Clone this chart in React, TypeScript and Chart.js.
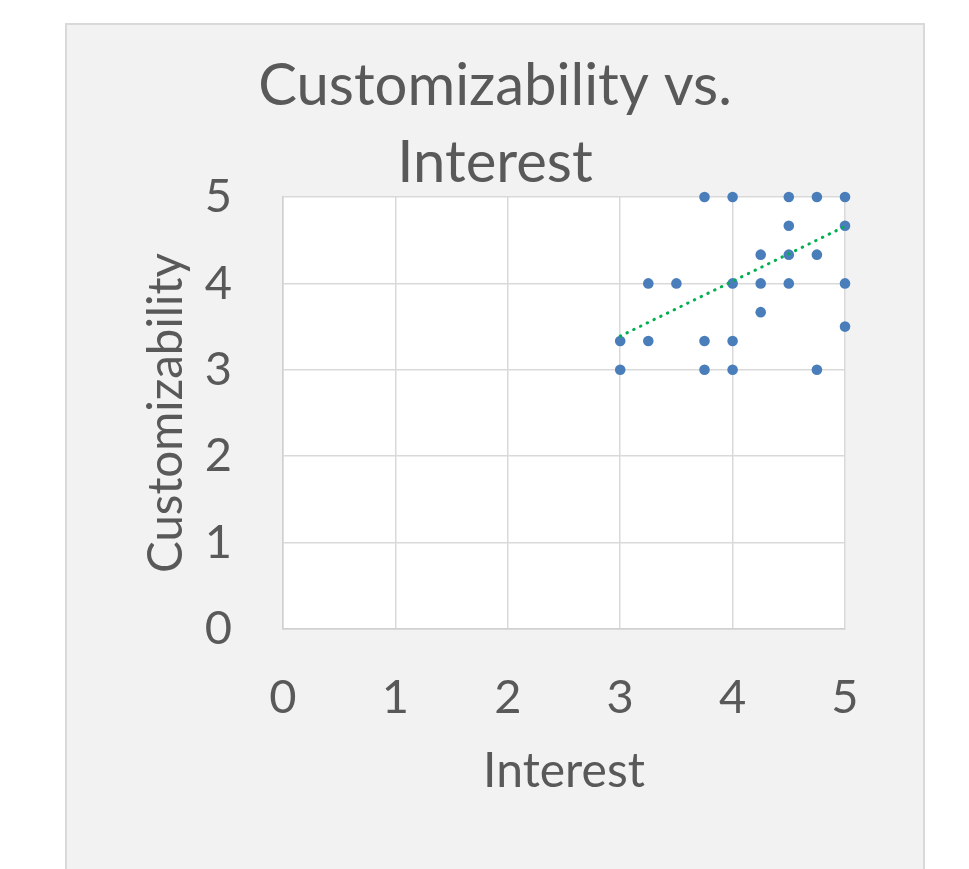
import React, { useEffect, useRef } from "react";
import { Chart, registerables } from "chart.js";

Chart.register(...registerables);

const chartTitle: string[] = ["Customizability vs.", "Interest"];
const xAxisTitle = "Interest";
const yAxisTitle = "Customizability";
const xTicks: number[] = [0, 1, 2, 3, 4, 5];
const yTicks: number[] = [0, 1, 2, 3, 4, 5];

const interest: number[] = [
  3.75, 4, 4.5, 4.75, 5,
  4.5, 5,
  4.25, 4.5, 4.75,
  3.25, 3.5, 4, 4.25, 4.5, 5,
  4.25, 5,
  3, 3.25, 3.75, 4,
  3, 3.75, 4, 4.75,
];
const customizability: number[] = [
  5, 5, 5, 5, 5,
  4.667, 4.667,
  4.333, 4.333, 4.333,
  4, 4, 4, 4, 4, 4,
  3.667, 3.5,
  3.333, 3.333, 3.333, 3.333,
  3, 3, 3, 3,
];
const trendX: number[] = [3, 5];
const trendY: number[] = [3.39, 4.66];

const FONT = "Lato, 'Open Sans', sans-serif";
const TEXT = "#595959";

export default function App() {
  const ref = useRef<HTMLCanvasElement>(null);
  useEffect(() => {
    if (!ref.current) return;
    const titlePlugin = {
      id: "twoLineTitle",
      afterDraw(chart: any) {
        const ctx = chart.ctx;
        ctx.save();
        ctx.fillStyle = TEXT;
        ctx.font = `58px ${FONT}`;
        ctx.textAlign = "center";
        ctx.textBaseline = "alphabetic";
        const cx = chart.width / 2;
        ctx.fillText(chartTitle[0], cx, 80);
        ctx.fillText(chartTitle[1], cx, 157);
        ctx.restore();
      },
    };
    const bgPlugin = {
      id: "plotBg",
      beforeDraw(chart: any) {
        const { ctx, chartArea } = chart;
        ctx.save();
        ctx.fillStyle = "#ffffff";
        ctx.fillRect(chartArea.left, chartArea.top, chartArea.right - chartArea.left, chartArea.bottom - chartArea.top);
        ctx.restore();
      },
    };
    const chart = new Chart(ref.current, {
      type: "scatter",
      data: {
        datasets: [
          {
            label: "Trend",
            data: trendX.map((x, i) => ({ x, y: trendY[i] })),
            showLine: true,
            borderColor: "#00b050",
            borderWidth: 3,
            borderDash: [0.5, 7],
            borderCapStyle: "round",
            pointRadius: 0,
            fill: false,
            clip: false,
          } as any,
          {
            label: "Customizability",
            data: interest.map((x, i) => ({ x, y: customizability[i] })),
            backgroundColor: "#4a7ebb",
            borderColor: "#4a7ebb",
            borderWidth: 0,
            pointRadius: 5.3,
            clip: false,
          } as any,
        ],
      },
      options: {
        animation: false,
        responsive: false,
        devicePixelRatio: 1,
        layout: { padding: { left: 0, top: 172, right: 78, bottom: 0 } },
        plugins: {
          legend: { display: false },
          tooltip: { enabled: false },
          title: { display: false },
        },
        scales: {
          x: {
            type: "linear",
            min: 0,
            max: 5,
            afterBuildTicks: (s: any) => { s.ticks = xTicks.map((v) => ({ value: v })); },
            afterFit: (s: any) => { s.height = 240; },
            grid: { color: "#d9d9d9", lineWidth: 1.5, drawTicks: false },
            border: { color: "#d0d0d0", width: 1.5 },
            ticks: { color: TEXT, font: { family: FONT, size: 47 }, padding: 41, maxRotation: 0 },
            title: { display: true, text: xAxisTitle, color: TEXT, font: { family: FONT, size: 48 }, padding: { top: 0, bottom: 69 } },
          },
          y: {
            type: "linear",
            min: 0,
            max: 5,
            afterBuildTicks: (s: any) => { s.ticks = yTicks.map((v) => ({ value: v })); },
            afterFit: (s: any) => { s.width = 216; },
            grid: { color: "#d9d9d9", lineWidth: 1.5, drawTicks: false },
            border: { color: "#d0d0d0", width: 1.5 },
            ticks: { color: TEXT, font: { family: FONT, size: 47 }, padding: 51 },
            title: { display: true, text: yAxisTitle, color: TEXT, font: { family: FONT, size: 47.5 }, padding: { top: 71, bottom: 0 } },
          },
        },
      },
      plugins: [bgPlugin, titlePlugin],
    });
    return () => chart.destroy();
  }, []);

  return (
    <div style={{ position: "absolute", left: 0, top: 0, width: 969, height: 869, overflow: "hidden", background: "#ffffff" }}>
      <div
        style={{
          position: "absolute",
          left: 65,
          top: 23,
          width: 856,
          height: 900,
          background: "#f2f2f2",
          borderLeft: "2px solid #d9d9d9",
          borderTop: "2px solid #d9d9d9",
          borderRight: "2px solid #d9d9d9",
        }}
      >
        <canvas ref={ref} width={856} height={844} style={{ position: "absolute", left: 0, top: 0, width: 856, height: 844 }} />
      </div>
    </div>
  );
}
